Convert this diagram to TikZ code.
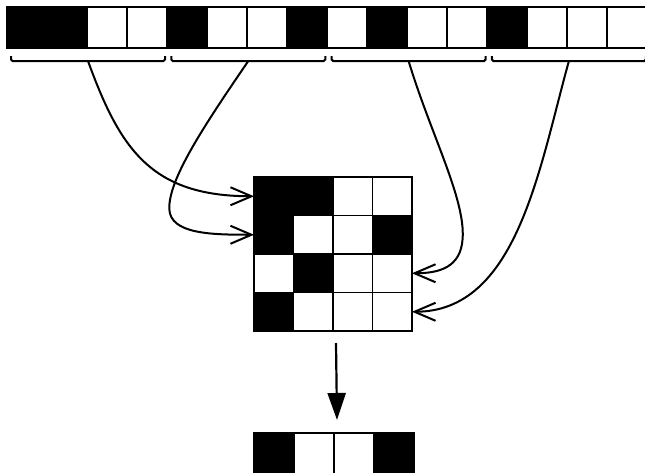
\documentclass[tikz,border=0pt]{standalone}
\usetikzlibrary{arrows.meta}
\begin{document}
\begin{tikzpicture}[
  x=1pt,
  y=-1pt,
  cell/.style={draw=black, line width=1.5pt, inner sep=0pt, outer sep=0pt,
    minimum width=40pt, minimum height=41pt},
  on/.style={cell, fill=black},
  off/.style={cell, fill=white},
  grid/.style={minimum width=39.5pt, minimum height=38.5pt},
  brace/.style={line width=2pt, rounded corners=1.5pt},
  link/.style={line width=2pt,
    -{Straight Barb[length=21pt,width=18pt,line width=2pt]}},
  down/.style={line width=2.2pt, -{Triangle[length=27pt,width=18pt]}}
]
  \useasboundingbox (0,0) rectangle (645,472);

  % input vector
  \foreach \s [count=\i from 0] in {on,on,off,off,on,off,off,on,off,on,off,off,on,off,off,off}
    \node[\s] (v\i) at ({27+40*\i},27.5) {};

  % one brace per block of four
  \foreach \g in {0,...,3}
    \draw[brace] ({11+160.3*\g},56) -- ({11+160.3*\g},61)
      -- coordinate[midway] (b\g) ({165+160.3*\g},61) -- ({165+160.3*\g},56);

  % blocks stacked as rows
  \foreach \row [count=\r] in {{on,on,off,off},{on,off,off,on},{off,on,off,off},{on,off,off,off}}
    \foreach \s [count=\c] in \row
      \node[\s, grid] (m-\r-\c) at ({234.25+39.5*\c},{157.75+38.5*\r}) {};

  % result
  \foreach \s [count=\i from 0] in {on,off,off,on}
    \node[\s] (o\i) at ({274+40*\i},453.5) {};

  \draw[link] (b0) .. controls +(32,88) and +(-103,0) .. (m-1-1.west);
  \draw[link] (b1) .. controls +(-43,63) and +(-1,-30) .. ++(-79,148)
    .. controls +(1,25) and +(-43,0) .. (m-2-1.west);
  \draw[link] (b2) .. controls +(22,73) and +(3,-40) .. ++(54,178)
    .. controls +(-2,28) and +(28,0) .. (m-3-4.east);
  \draw[link] (b3) .. controls +(-30,108) and +(105,0) .. (m-4-4.east);

  \draw[down] ([xshift=3pt,yshift=-12pt]m-4-2.south east)
    -- ([xshift=3pt,yshift=13pt]o1.north east);
\end{tikzpicture}
\end{document}
